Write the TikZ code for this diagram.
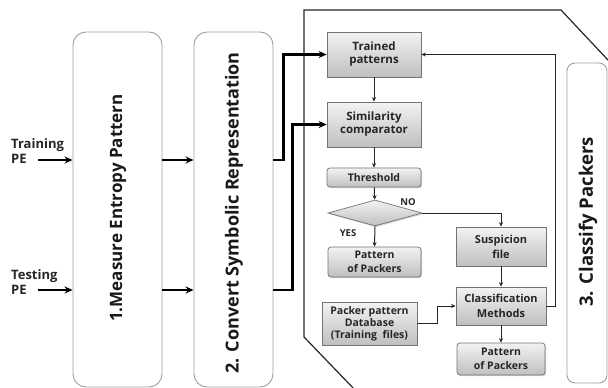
\documentclass[tikz,border=0pt]{standalone}
\usepackage{fontspec}
\setmainfont{Open Sans}
\usetikzlibrary{shapes.geometric,arrows.meta,shadows}
\begin{document}
\begin{tikzpicture}[x=1pt,y=-1pt,
  bigbox/.style={draw=gray!75, line width=0.9pt, rounded corners=13pt, fill=white, inner sep=0pt},
  biglabel/.style={font=\bfseries\fontsize{17}{20}\selectfont, text=black!90, rotate=90},
  gbox/.style={draw=black!55, line width=0.7pt, top color=gray!10, bottom color=gray!50,
    drop shadow={shadow xshift=1.2pt, shadow yshift=-1.2pt, opacity=0.35},
    text=black!85, font=\bfseries\fontsize{10}{12}\selectfont, align=center, inner sep=0pt},
  rbox/.style={gbox, rounded corners=3pt},
  thk/.style={line width=2.5pt, -{Stealth[length=8pt,width=7pt]}},
  thn/.style={line width=1pt, draw=black!85, -{Stealth[length=4.5pt,width=4pt]}},
  lbl/.style={font=\bfseries\fontsize{13}{15}\selectfont, text=black!85, align=left, inner sep=0pt},
  sm/.style={font=\bfseries\fontsize{9.5}{11}\selectfont, text=black!85, inner sep=0pt}
]
\useasboundingbox (0,0) rectangle (608,388);
\clip (0,0) rectangle (608,388);

% container
\draw[line width=1.2pt, black!85] (622,75) -- (561,10) -- (304,10) -- (304,337) -- (356,391);

% big boxes
\node[bigbox, minimum width=89pt, minimum height=355pt] (box1) at (117.5,209.5) {};
\node[biglabel] at (118,208) {1.Measure Entropy Pattern};
\node[bigbox, minimum width=79pt, minimum height=355pt] (box2) at (233.5,209.5) {};
\node[biglabel, font=\bfseries\fontsize{18}{20}\selectfont] at (234,213) {2. Convert Symbolic Representation};
\node[bigbox, rounded corners=8pt, minimum width=40pt, minimum height=320pt] (box3) at (587,223) {};
\node[biglabel, font=\bfseries\fontsize{18.5}{20}\selectfont] at (588,222) {3. Classify Packers};

% inputs
\node[lbl, anchor=west] (train) at (11,151) {Training\\PE};
\node[lbl, anchor=west] (test) at (11,282) {Testing\\PE};
\coordinate (trS) at (38,160);
\coordinate (teS) at (38,290);
\draw[thk] (trS) -- (box1.west |- trS);
\draw[thk] (teS) -- (box1.west |- teS);
\draw[thk] (box1.east |- trS) -- (box2.west |- trS);
\draw[thk] (box1.east |- teS) -- (box2.west |- teS);

% inner boxes
\node[gbox, minimum width=94pt, minimum height=45pt, font=\bfseries\fontsize{11.5}{13}\selectfont] (trained) at (374,54.5) {Trained\\patterns};
\node[gbox, minimum width=94pt, minimum height=45pt, font=\bfseries\fontsize{11.5}{13}\selectfont] (simil) at (374,124.5) {Similarity\\comparator};
\node[rbox, minimum width=94pt, minimum height=19pt, font=\bfseries\fontsize{10.5}{12}\selectfont] (thresh) at (374,177.5) {Threshold};
\node[draw=black!55, line width=0.7pt, top color=gray!10, bottom color=gray!50,
  drop shadow={shadow xshift=1.2pt, shadow yshift=-1.2pt, opacity=0.35},
  diamond, aspect=3.6, inner sep=0pt, minimum width=94pt, minimum height=26pt] (dia) at (375,213) {};
\node[rbox, minimum width=93pt, minimum height=30pt, font=\bfseries\fontsize{10.5}{14}\selectfont] (pop1) at (374.5,262) {Pattern\\of Packers};
\node[gbox, minimum width=90pt, minimum height=39pt, font=\bfseries\fontsize{11}{15}\selectfont] (susp) at (501,246.5) {Suspicion\\file};
\node[gbox, minimum width=90pt, minimum height=38pt, font=\bfseries\fontsize{11}{15}\selectfont] (classif) at (501,306) {Classification\\Methods};
\node[gbox, minimum width=95pt, minimum height=43pt, font=\bfseries\fontsize{10.5}{12}\selectfont] (db) at (369.5,323.5) {Packer pattern\\Database\\(Training~~files)};
\node[rbox, minimum width=88pt, minimum height=32pt, font=\bfseries\fontsize{10.5}{14}\selectfont] (pop2) at (501,359) {Pattern\\of Packers};

% labels
\node[sm] (no) at (408,202) {NO};
\node[sm] (yes) at (348,233) {YES};

% connectors from box2
\draw[thk] (box2.east |- trS) -- ++(10,0) |- (trained.west);
\draw[thk] (box2.east |- teS) -- ++(19,0) |- (simil.west);

% inner flow
\draw[thn] (trained) -- (simil);
\draw[thn] (simil) -- (thresh);
\draw[thn] (thresh) -- (dia);
\draw[thn] (dia.south) -- (pop1.north);
\draw[thn] (dia.east) -| (susp.north);
\draw[thn] (susp) -- (classif);
\draw[thn] (db.east) -- ++(20,0) |- (classif.west);
\draw[thn] (classif) -- (pop2);
\draw[thn] (classif.east) -- ++(9,0) |- (trained.east);
\end{tikzpicture}
\end{document}
